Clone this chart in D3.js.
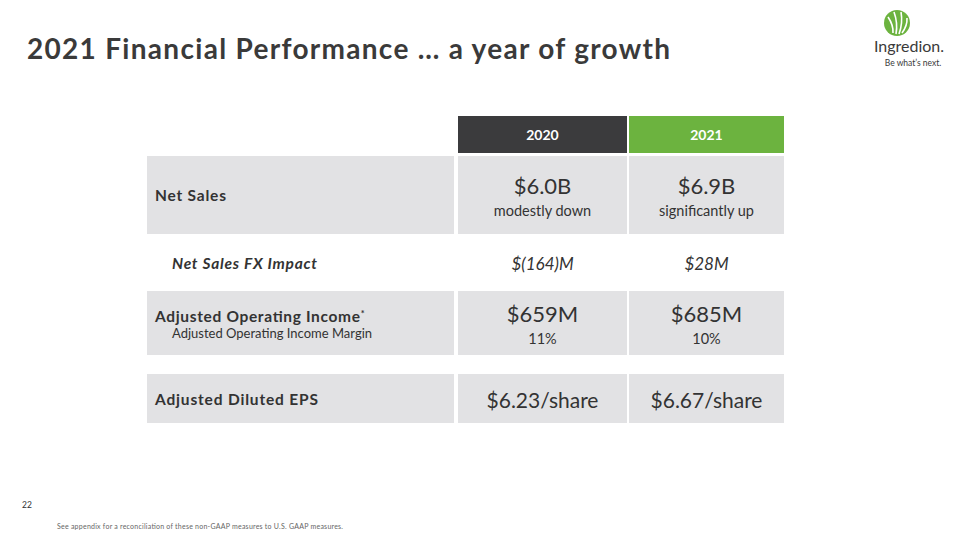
<!DOCTYPE html>
<html><head><meta charset="utf-8">
<script src="https://cdn.jsdelivr.net/npm/d3@7"></script>
<style>body{margin:0;background:#fff}svg{display:block}text{font-family:Lato,"Open Sans",sans-serif}</style>
</head><body><svg id="c" width="960" height="540"></svg>
<script>
const years = ["2020", "2021"];
const metrics = ["Net Sales", "Net Sales FX Impact", "Adjusted Operating Income", "Adjusted Diluted EPS"];
const subLabels = ["", "", "Adjusted Operating Income Margin", ""];
const values2020 = ["$6.0B", "$(164)M", "$659M", "$6.23/share"];
const values2021 = ["$6.9B", "$28M", "$685M", "$6.67/share"];
const sub2020 = ["modestly down", "", "11%", ""];
const sub2021 = ["significantly up", "", "10%", ""];
const headerColors = ["#3b3b3d", "#6cb33f"];

const svg = d3.select("#c");
const ink = "#333333";

// Title
svg.append("text").attr("x", 27).attr("y", 59).attr("font-size", 28).attr("font-weight", 700)
  .attr("fill", "#3a3a3a").attr("textLength", 643).attr("lengthAdjust", "spacing")
  .text("2021 Financial Performance \u2026 a year of growth");

// Logo
const lg = svg.append("g").attr("transform", "translate(897,23)");
lg.append("circle").attr("r", 13).attr("fill", "#6cb33f");
[[-4,10,-9,-6],[-1,11,-3,-11],[2,11,4,-11],[5,10,10,-5]].forEach(([x1,y1,x2,y2])=>{
  lg.append("path").attr("d", `M${x1},${y1} Q${(x1+x2)/2+3},${(y1+y2)/2} ${x2},${y2}`)
    .attr("fill","none").attr("stroke","#fff").attr("stroke-width",1.6);
});
svg.append("text").attr("x", 909).attr("y", 52).attr("text-anchor","middle").attr("font-size", 16)
  .attr("fill", "#3a3a3a").text("Ingredion.");
svg.append("text").attr("x", 913).attr("y", 66).attr("text-anchor","middle").attr("font-size", 8.5)
  .attr("fill", "#3a3a3a").text("Be what\u2019s next.");

// Columns
const colX = {label: 147, "2020": 458, "2021": 629};
const colW = {label: 309, "2020": 169, "2021": 155};

// Header
years.forEach((y, i) => {
  svg.append("rect").attr("x", colX[y]).attr("y", 116).attr("width", colW[y]).attr("height", 37)
    .attr("fill", headerColors[i]);
  svg.append("text").attr("x", colX[y] + colW[y]/2).attr("y", 140).attr("text-anchor","middle")
    .attr("font-size", 14).attr("font-weight", 700).attr("fill", "#fff").text(y);
});

// Rows
const rows = [
  {top:156, h:78, bg:true, mainY:194, subY:216, lab:[201], fontMain:22, italic:false, lw:71},
  {top:248, h:32, bg:false, mainY:270, subY:0, lab:[269], fontMain:17, italic:true, lw:145},
  {top:291, h:64, bg:true, mainY:322, subY:344, lab:[322,338], fontMain:22, italic:false, lw:205},
  {top:374, h:49, bg:true, mainY:408, subY:0, lab:[405], fontMain:21, italic:false, lw:163}
];
const vals = {"2020": values2020, "2021": values2021};
const subs = {"2020": sub2020, "2021": sub2021};

metrics.forEach((m, i) => {
  const r = rows[i];
  if (r.bg) {
    ["label", ...years].forEach(c => {
      svg.append("rect").attr("x", colX[c]).attr("y", r.top).attr("width", colW[c] - (c==="label"?2:0))
        .attr("height", r.h).attr("fill", "#e2e2e4");
    });
  }
  const lt = svg.append("text").attr("x", r.italic ? 172 : 155).attr("y", r.lab[0])
    .attr("font-size", 15.5).attr("font-weight", 700).attr("fill", ink)
    .attr("font-style", r.italic ? "italic" : "normal");
  lt.append("tspan").attr("textLength", r.lw).attr("lengthAdjust", "spacing").text(m);
  if (i === 2) lt.append("tspan").attr("font-size", 9).attr("dy", -5).text("*");
  if (subLabels[i]) svg.append("text").attr("x", 172).attr("y", r.lab[1]).attr("font-size", 13)
    .attr("fill", ink).text(subLabels[i]);
  years.forEach(y => {
    const cx = colX[y] + colW[y]/2;
    svg.append("text").attr("x", cx).attr("y", r.mainY).attr("text-anchor","middle")
      .attr("font-size", r.fontMain).attr("font-style", r.italic ? "italic" : "normal")
      .attr("fill", ink).text(vals[y][i]);
    if (subs[y][i]) svg.append("text").attr("x", cx).attr("y", r.subY).attr("text-anchor","middle")
      .attr("font-size", 14.5).attr("fill", ink).text(subs[y][i]);
  });
});

// Footer
svg.append("text").attr("x", 22).attr("y", 508).attr("font-size", 8.5).attr("fill", "#333").text("22");
svg.append("text").attr("x", 57).attr("y", 529).attr("font-size", 7).attr("fill", "#666")
  .attr("textLength", 286).attr("lengthAdjust", "spacing")
  .text("See appendix for a reconciliation of these non-GAAP measures to U.S. GAAP measures.");
</script></body></html>
